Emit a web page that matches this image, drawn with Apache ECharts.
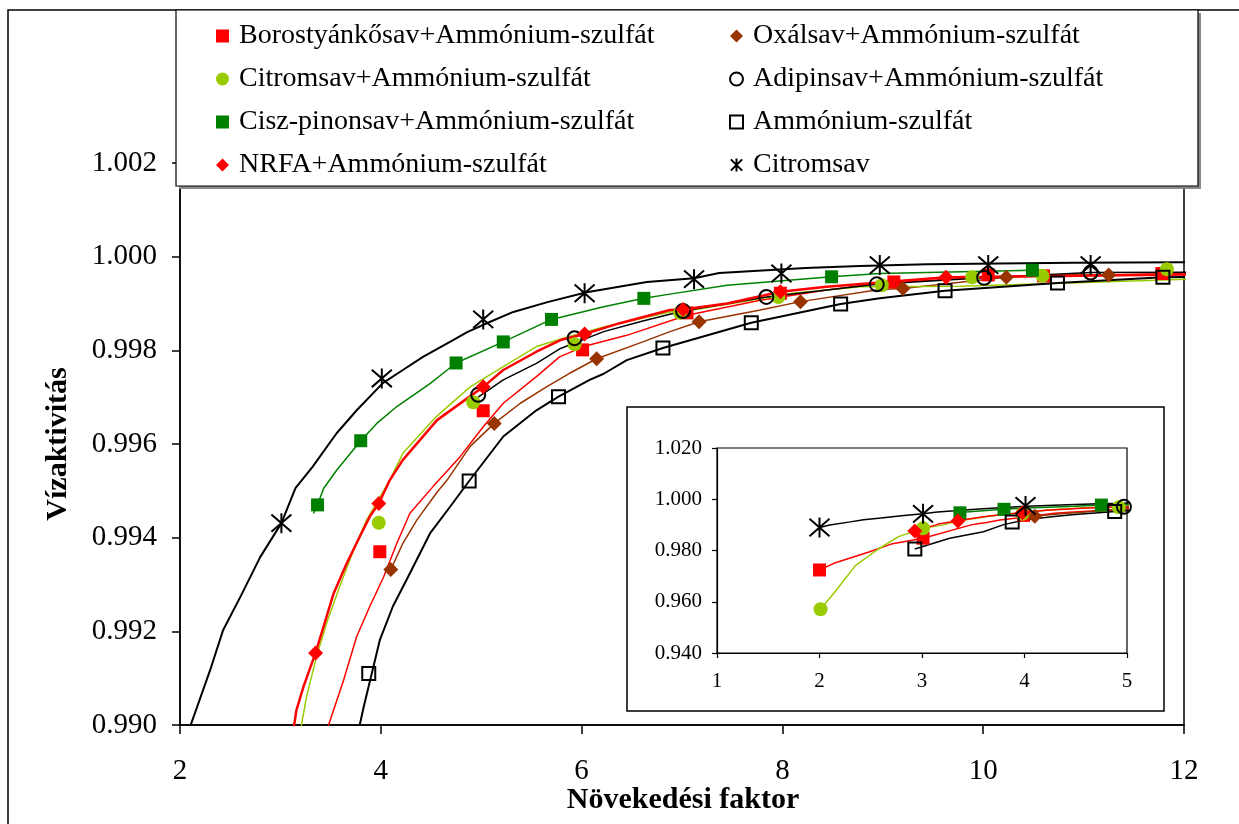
<!DOCTYPE html>
<html><head><meta charset="utf-8">
<script src="https://cdn.jsdelivr.net/npm/echarts@6/dist/echarts.min.js"></script>
<style>html,body{margin:0;padding:0;background:#fff}#c{width:1239px;height:824px}</style>
</head><body><div id="c"></div>
<script>
// ---------- DATA ----------
const seriesNames = [
  'Borostyánkősav+Ammónium-szulfát', 'Oxálsav+Ammónium-szulfát',
  'Citromsav+Ammónium-szulfát', 'Adipinsav+Ammónium-szulfát',
  'Cisz-pinonsav+Ammónium-szulfát', 'Ammónium-szulfát',
  'NRFA+Ammónium-szulfát', 'Citromsav'
];
const legendCol1 = [seriesNames[0], seriesNames[2], seriesNames[4], seriesNames[6]];
const legendCol2 = [seriesNames[1], seriesNames[3], seriesNames[5], seriesNames[7]];

const xTitle = 'Növekedési faktor';
const yTitle = 'Vízaktivitás';

// Borostyánkősav+AS
const borLine = [[2.00,0.9724],[2.14,0.9750],[2.49,0.9795],[2.70,0.9825],[3.01,0.9848],[3.48,0.99000],[3.53,0.99032],[3.63,0.99096],[3.76,0.99189],[3.89,0.99253],[4.03,0.99317],[4.16,0.99388],[4.29,0.99452],[4.52,0.99509],[4.79,0.99573],[5.02,0.99637],[5.22,0.99687],[5.55,0.99744],[5.78,0.99786],[6.02,0.99808],[6.45,0.99832],[7.05,0.99875],[7.78,0.99907],[8.44,0.99929],[8.97,0.99943],[10.10,0.99957],[12.05,0.99964]];
const borMarks = [[2.00,0.9724],[3.01,0.9848],[3.99,0.99370],[5.02,0.99671],[6.01,0.99801],[7.05,0.99880],[7.98,0.99922],[9.11,0.99946],[10.05,0.99961],[10.60,0.99959],[11.78,0.99964]];

// Oxálsav+AS
const oxaLine = [[4.10,0.99332],[4.22,0.99388],[4.36,0.99438],[4.56,0.99497],[4.66,0.99523],[4.89,0.99595],[5.13,0.99644],[5.39,0.99687],[5.65,0.99722],[5.88,0.99751],[6.15,0.99782],[6.61,0.99818],[6.88,0.99840],[7.17,0.99861],[7.78,0.99886],[8.18,0.99904],[8.97,0.99930],[9.20,0.99932],[10.23,0.99956],[10.77,0.99961],[11.25,0.99961],[12.05,0.99963]];
const oxaMarks = [[4.10,0.99332],[5.13,0.99644],[6.15,0.99782],[7.17,0.99861],[8.18,0.99904],[9.20,0.99932],[10.23,0.99956],[11.25,0.99961]];

// Citromsav+AS
const citAsLine = [[2.01,0.9571],[2.14,0.9633],[2.35,0.9741],[2.56,0.9802],[2.77,0.9854],[3.01,0.9887],[3.21,0.99000],[3.26,0.99060],[3.36,0.99146],[3.46,0.99217],[3.59,0.99295],[3.73,0.99374],[3.86,0.99438],[4.09,0.99523],[4.22,0.99580],[4.55,0.99658],[4.89,0.99722],[5.22,0.99765],[5.55,0.99808],[5.85,0.99828],[6.22,0.99850],[6.88,0.99882],[7.11,0.99886],[8.11,0.99922],[8.77,0.99936],[9.77,0.99937],[10.77,0.99943],[12.05,0.99952]];
const citAsMarks = [[2.01,0.9571],[3.01,0.9887],[3.98,0.99432],[4.92,0.99689],[5.93,0.99813],[6.98,0.99880],[7.96,0.99914],[8.99,0.99939],[9.89,0.99956],[10.59,0.99959],[11.83,0.99973]];

// Adipinsav+AS
const adiLine = [[4.97,0.99700],[5.22,0.99737],[5.55,0.99772],[5.79,0.99804],[6.22,0.99840],[6.60,0.99862],[7.01,0.99884],[7.84,0.99914],[8.94,0.99941],[10.01,0.99955],[11.07,0.99966],[12.05,0.99967]];
const adiMarks = [[4.97,0.99705],[5.93,0.99826],[7.01,0.99884],[7.84,0.99914],[8.94,0.99941],[10.01,0.99955],[11.07,0.99966]];

// Cisz-pinonsav+AS
const cisLine = [[3.33,0.99452],[3.37,0.99470],[3.43,0.99505],[3.56,0.99544],[3.80,0.99607],[3.96,0.99644],[4.16,0.99680],[4.49,0.99729],[4.75,0.99773],[5.22,0.99818],[5.70,0.99866],[6.22,0.99893],[6.62,0.99911],[6.88,0.99920],[7.45,0.99939],[8.49,0.99957],[8.97,0.99964],[10.49,0.99971]];
const cisMarks = [[3.37,0.99470],[3.80,0.99607],[4.75,0.99773],[5.22,0.99818],[5.70,0.99866],[6.62,0.99911],[8.49,0.99957],[10.49,0.99971]];

// Ammónium-szulfát
const asLine = [[2.93,0.9806],[3.27,0.9848],[3.60,0.9873],[3.79,0.99000],[3.83,0.99039],[3.99,0.99181],[4.12,0.99253],[4.29,0.99324],[4.49,0.99409],[4.69,0.99466],[4.88,0.99521],[5.22,0.99616],[5.55,0.99672],[5.77,0.99701],[6.08,0.99737],[6.22,0.99750],[6.45,0.99779],[6.81,0.99805],[7.69,0.99859],[8.58,0.99899],[8.97,0.99911],[9.62,0.99927],[10.74,0.99944],[11.79,0.99956],[12.05,0.99957]];
const asMarks = [[2.93,0.9806],[3.88,0.99110],[4.88,0.99521],[5.77,0.99701],[6.81,0.99805],[7.69,0.99859],[8.58,0.99899],[9.62,0.99927],[10.74,0.99944],[11.79,0.99956]];

// NRFA+AS
const nrfaLine = [[2.93,0.9876],[3.13,0.98990],[3.16,0.99032],[3.23,0.99082],[3.35,0.99154],[3.43,0.99210],[3.53,0.99281],[3.66,0.99345],[3.79,0.99402],[3.89,0.99445],[3.98,0.99473],[4.09,0.99523],[4.22,0.99566],[4.56,0.99651],[5.02,0.99722],[5.22,0.99758],[5.55,0.99797],[5.79,0.99822],[6.03,0.99835],[6.38,0.99858],[6.88,0.99886],[7.01,0.99887],[7.45,0.99900],[7.98,0.99925],[8.44,0.99936],[8.97,0.99945],[9.63,0.99956],[10.10,0.99957],[12.05,0.99962]];
const nrfaMarks = [[2.93,0.9876],[3.35,0.99154],[3.98,0.99473],[5.02,0.99722],[6.03,0.99835],[7.01,0.99887],[7.98,0.99925],[9.63,0.99956]];

// Citromsav
const citLine = [[2.00,0.9890],[2.10,0.98996],[2.30,0.99117],[2.43,0.99203],[2.60,0.99273],[2.80,0.99359],[3.01,0.99431],[3.15,0.99506],[3.32,0.99551],[3.56,0.99623],[3.76,0.99672],[4.02,0.99730],[4.22,0.99758],[4.42,0.99786],[4.72,0.99822],[4.86,0.99839],[5.09,0.99861],[5.32,0.99882],[5.66,0.99903],[6.05,0.99924],[6.65,0.99946],[7.12,0.99954],[7.37,0.99965],[8.23,0.99976],[8.77,0.99980],[9.44,0.99984],[10.89,0.99987],[12.05,0.99988]];
const citMarks = [[2.00,0.9890],[3.01,0.99431],[4.01,0.99740],[5.02,0.99866],[6.03,0.99922],[7.12,0.99952],[7.99,0.99964],[8.97,0.99982],[10.05,0.99982],[11.07,0.99982]];

// ---------- STYLE ----------
const FONT = '"Liberation Serif", "Times New Roman", serif';
const STAR = 'path://M-1,-1L1,1M-1,1L1,-1M0,-1.15L0,1.15';
const CLEAR = 'rgba(0,0,0,0)';

const specs = [
  {name: seriesNames[0], line: borLine, marks: borMarks, color: '#FF0000', symbol: 'rect', size: 13, lw: 1.5},
  {name: seriesNames[1], line: oxaLine, marks: oxaMarks, color: '#993300', symbol: 'diamond', size: 15, lw: 1.5},
  {name: seriesNames[2], line: citAsLine, marks: citAsMarks, color: '#99CC00', symbol: 'circle', size: 14, lw: 1.5},
  {name: seriesNames[3], line: adiLine, marks: adiMarks, color: '#000000', symbol: 'circle', size: 14, lw: 1.5, open: true},
  {name: seriesNames[4], line: cisLine, marks: cisMarks, color: '#008000', symbol: 'rect', size: 13, lw: 1.5},
  {name: seriesNames[5], line: asLine, marks: asMarks, color: '#000000', symbol: 'rect', size: 13, lw: 2, open: true},
  {name: seriesNames[6], line: nrfaLine, marks: nrfaMarks, color: '#FF0000', symbol: 'diamond', size: 15, lw: 2.5},
  {name: seriesNames[7], line: citLine, marks: citMarks, color: '#000000', symbol: STAR, size: 20, lw: 2, open: true}
];

function markStyle(s) {
  return s.open ? {color: CLEAR, borderColor: s.color, borderWidth: 2, opacity: 1}
                : {color: s.color, borderWidth: 0, opacity: 1};
}

const series = [];
[0, 1].forEach(g => specs.forEach(s => series.push({
  type: 'scatter', name: s.name, xAxisIndex: g, yAxisIndex: g, data: s.marks,
  symbol: s.symbol, symbolSize: s.size, itemStyle: markStyle(s),
  z: g ? 12 : 4, silent: true, clip: true
})));
[0, 1].forEach(g => specs.forEach(s => series.push({
  type: 'line', name: s.name, xAxisIndex: g, yAxisIndex: g, data: s.line,
  showSymbol: false, symbol: 'none', clip: true,
  lineStyle: {color: s.color, width: g ? Math.min(s.lw, 1.5) : s.lw, opacity: 1},
  itemStyle: {color: s.color}, z: g ? 11 : 3, silent: true
})));

function legendData(names) {
  return names.map(n => {
    const s = specs.find(t => t.name === n);
    return {name: n, icon: s.symbol, itemStyle: markStyle(s)};
  });
}

const legendCommon = {
  orient: 'vertical', top: 22, padding: 0, itemWidth: 13, itemHeight: 13,
  itemGap: 15, selectedMode: false, z: 20,
  textStyle: {fontFamily: FONT, fontSize: 28, color: '#000', lineHeight: 28, padding: [0, 0, 0, 5]}
};

const axisLineStyle = {color: '#000', width: 1.5};

const option = {
  animation: false,
  backgroundColor: '#fff',
  grid: [
    {left: 180, top: 163, width: 1004, height: 562, show: true, borderColor: '#000', borderWidth: 1.5, z: 1},
    {left: 717, top: 448, width: 410, height: 205, show: true, borderColor: '#000', borderWidth: 1.2, z: 6}
  ],
  xAxis: [
    {type: 'value', gridIndex: 0, min: 2, max: 12, interval: 2,
     axisLine: {show: true, onZero: false, lineStyle: axisLineStyle},
     axisTick: {show: true, length: 9, lineStyle: axisLineStyle},
     axisLabel: {color: '#000', fontFamily: FONT, fontSize: 29, margin: 32},
     splitLine: {show: false}},
    {type: 'value', gridIndex: 1, min: 1, max: 5, interval: 1, z: 6,
     axisLine: {show: true, onZero: false, lineStyle: {color: '#000', width: 1.2}},
     axisTick: {show: true, length: 5, lineStyle: {color: '#000', width: 1.2}},
     axisLabel: {color: '#000', fontFamily: FONT, fontSize: 21, margin: 18},
     splitLine: {show: false}}
  ],
  yAxis: [
    {type: 'value', gridIndex: 0, min: 0.990, max: 1.002, interval: 0.002,
     axisLine: {show: true, onZero: false, lineStyle: axisLineStyle},
     axisTick: {show: true, length: 8, lineStyle: axisLineStyle},
     axisLabel: {color: '#000', fontFamily: FONT, fontSize: 29, margin: 23,
                 formatter: v => v.toFixed(3)},
     splitLine: {show: false}},
    {type: 'value', gridIndex: 1, min: 0.94, max: 1.02, interval: 0.02, z: 6,
     axisLine: {show: true, onZero: false, lineStyle: {color: '#000', width: 1.2}},
     axisTick: {show: true, length: 5, lineStyle: {color: '#000', width: 1.2}},
     axisLabel: {color: '#000', fontFamily: FONT, fontSize: 21, margin: 15,
                 formatter: v => v.toFixed(3)},
     splitLine: {show: false}}
  ],
  legend: [
    Object.assign({left: 216, data: legendData(legendCol1)}, legendCommon),
    Object.assign({left: 729, data: legendData(legendCol2)}, legendCommon)
  ],
  graphic: [
    {type: 'rect', z: 0, silent: true, shape: {x: 8, y: 10, width: 1300, height: 900},
     style: {fill: CLEAR, stroke: '#000', lineWidth: 1.5}},
    {type: 'rect', z: 5, silent: true, shape: {x: 627, y: 407, width: 537, height: 304},
     style: {fill: '#fff', stroke: '#000', lineWidth: 1.5}},
    {type: 'rect', z: 15, silent: true, shape: {x: 179, y: 13, width: 1022, height: 176},
     style: {fill: '#8a8a8a'}},
    {type: 'rect', z: 16, silent: true, shape: {x: 176, y: 10, width: 1022, height: 176},
     style: {fill: '#fff', stroke: '#000', lineWidth: 1.2}},
    {type: 'text', z: 16, silent: true, x: 58, y: 444, rotation: Math.PI / 2,
     style: {text: yTitle, x: 0, y: 0, fill: '#000', font: 'bold 30px ' + FONT,
             textAlign: 'center', textVerticalAlign: 'middle'}},
    {type: 'text', z: 16, silent: true, x: 683, y: 800,
     style: {text: xTitle, x: 0, y: 0, fill: '#000', font: 'bold 30px ' + FONT,
             textAlign: 'center', textVerticalAlign: 'middle'}}
  ],
  series: series
};

const chart = echarts.init(document.getElementById('c'), null, {renderer: 'canvas'});
chart.setOption(option);
</script>
</body></html>
